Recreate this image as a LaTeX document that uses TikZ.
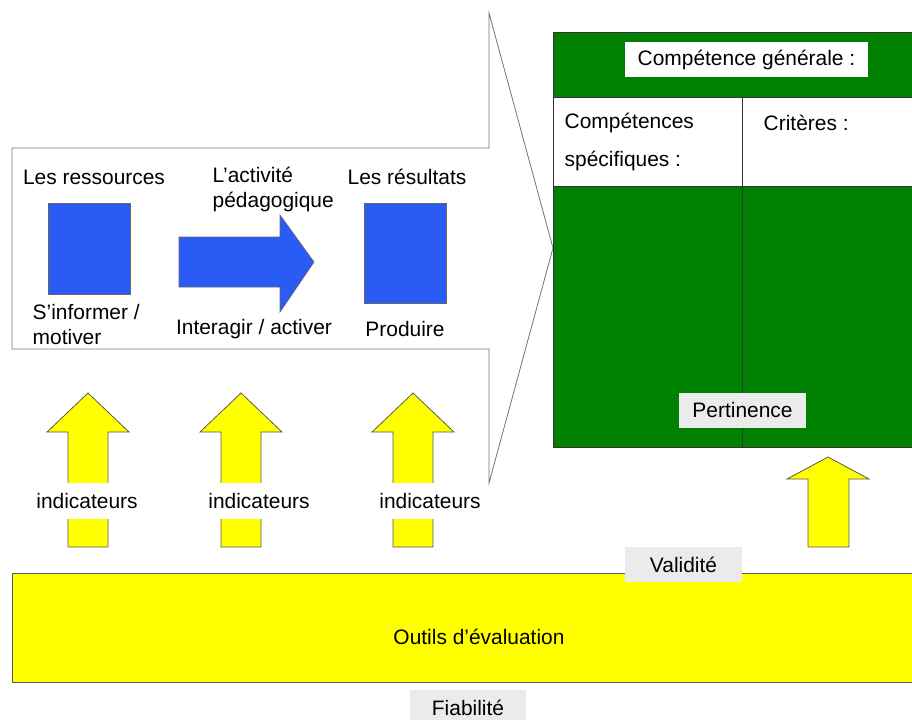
\documentclass[tikz,border=0pt]{standalone}
\usepackage{fontspec}
\setmainfont{Liberation Sans}
\usetikzlibrary{calc}
\definecolor{bleu}{RGB}{42,92,245}
\definecolor{vert}{RGB}{0,128,0}
\definecolor{jaune}{RGB}{255,255,0}
\definecolor{gris}{RGB}{235,235,235}
\tikzset{big label/.style={font=\fontsize{15.7}{18.75}\selectfont},
	blue shape/.style={fill=bleu,draw=black!60,line width=0.5pt},
	yellow shape/.style={fill=jaune,draw=black!65,line width=0.6pt},
	grey tag/.style={fill=gris,inner sep=0pt,minimum height=26.25pt},
	white tag/.style={fill=white,inner sep=0pt}}

\begin{document}
\begin{tikzpicture}[x=0.75pt,y=-0.75pt,big label]
			\useasboundingbox (0,0) rectangle (912,719);
			\clip (0,0) rectangle (912,719);
			% callout round the activity
			\draw[black!55,line width=0.6pt] (12,148) -- (489,148) -- (489,13) -- (553,248)
				-- (489,483) -- (489,349) -- (12,349) -- cycle;
			% blue shapes
			\draw[blue shape] (48,203) rectangle (130,294);
			\draw[blue shape] (179,237) -- (280,237) -- (280,215) -- (314,262)
				-- (280,312) -- (280,287) -- (179,287) -- cycle;
			\draw[blue shape] (364,203) rectangle (446,303);
			\node (ressources) at (94,177) {Les ressources};
			\node[anchor=west,align=left] (activite) at (208,189.5) {L’activité\\pédagogique};
			\node (resultats) at (407,177) {Les résultats};
			\node[anchor=west,align=left] (informer) at (28,324.5) {S’informer /\\motiver};
			\node (interagir) at (254,329) {Interagir / activer};
			\node (produire) at (405,329) {Produire};
			% table
			\fill[vert] (553,32) rectangle (915,447);
			\fill[white] (553,97) rectangle (915,186);
			\draw[black!80,line width=0.5pt] (553,32) rectangle (915,447)
				(553,97) -- (915,97) (553,186) -- (915,186) (742,97) -- (742,447);
			\node[white tag,minimum width=182pt,minimum height=26.25pt] (generale) at (746.5,59.5) {Compétence générale :};
			\node[anchor=west,align=left,font=\fontsize{15.7}{28.5}\selectfont] (specifiques) at (560,142) {Compétences\\spécifiques :};
			\node[anchor=west] (criteres) at (759,123) {Critères :};
			\node[grey tag,minimum width=95.25pt] (pertinence) at (742.5,410.5) {Pertinence};
			% yellow arrows
			\foreach \c in {88,241,413}
				\draw[yellow shape] (\c,393) -- (\c+41,432) -- (\c+20,432) -- (\c+20,547)
					-- (\c-20,547) -- (\c-20,432) -- (\c-41,432) -- cycle;
			\draw[yellow shape] (828,457) -- (869,479) -- (849,479) -- (849,547)
				-- (808,547) -- (808,479) -- (787,479) -- cycle;
			\node[white tag,minimum height=27pt] (ind1) at (87,501) {indicateurs};
			\node[white tag,minimum height=27pt] (ind2) at (259,501) {indicateurs};
			\node[white tag,minimum height=27pt] (ind3) at (430,501) {indicateurs};
			% evaluation tools
			\draw[yellow shape] (12,573) rectangle (915,682);
			\node (outils) at (479,637) {Outils d’évaluation};
			\node[grey tag,minimum width=87.75pt] (validite) at (683.5,564.5) {Validité};
			\node[grey tag,minimum width=87pt] (fiabilite) at (468,707.5) {Fiabilité};
		\end{tikzpicture}
\end{document}
